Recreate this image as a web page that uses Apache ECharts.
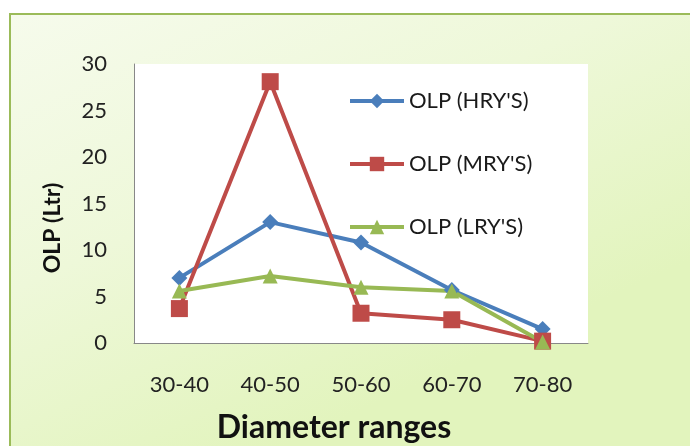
<!DOCTYPE html>
<html>
<head>
<meta charset="utf-8">
<script src="https://cdn.jsdelivr.net/npm/echarts@6/dist/echarts.min.js"></script>
<style>
html,body{margin:0;padding:0;background:#fff;}
#chart{width:690px;height:446px;}
</style>
</head>
<body>
<div id="chart"></div>
<script>
const categories = ['30-40', '40-50', '50-60', '60-70', '70-80'];
const hryValues = [7.0, 13.0, 10.8, 5.7, 1.5];
const mryValues = [3.7, 28.1, 3.2, 2.5, 0.2];
const lryValues = [5.6, 7.2, 6.0, 5.6, 0.1];
const seriesNames = ["OLP (HRY'S)", "OLP (MRY'S)", "OLP (LRY'S)"];
const yTicks = { min: 0, max: 30, interval: 5 };
const xTitle = 'Diameter ranges';
const yTitle = 'OLP (Ltr)';

const FONT = 'Lato, "Open Sans", sans-serif';
const chart = echarts.init(document.getElementById('chart'), null, { renderer: 'canvas' });

function lineSeries(name, data, color, symbol, size) {
  return {
    name: name, type: 'line', data: data,
    symbol: symbol, symbolSize: size,
    lineStyle: { color: color, width: 4 },
    itemStyle: { color: color },
    emphasis: { disabled: true },
    z: 3
  };
}

chart.setOption({
  animation: false,
  backgroundColor: 'transparent',
  graphic: [
    {
      type: 'rect', z: -10, silent: true,
      shape: { x: 10, y: 14, width: 700, height: 460 },
      style: {
        fill: { type: 'linear', x: 0, y: 0, x2: 0.3, y2: 1,
          colorStops: [{ offset: 0, color: '#f6fbec' }, { offset: 0.5, color: '#eef8d9' }, { offset: 1, color: '#e2f4bd' }] },
        stroke: '#9bbb59', lineWidth: 2
      }
    },
    {
      type: 'text', x: 53, y: 228, rotation: Math.PI / 2, silent: true,
      style: { text: yTitle, font: 'bold 23px ' + FONT, fill: '#111', align: 'center', verticalAlign: 'middle' }
    },
    {
      type: 'text', x: 334, y: 428, silent: true,
      style: { text: xTitle, font: 'bold 32px ' + FONT, fill: '#111', align: 'center', verticalAlign: 'middle' }
    }
  ],
  grid: {
    left: 134, right: 102, top: 64, bottom: 103,
    show: true, backgroundColor: '#ffffff', borderWidth: 0, containLabel: false
  },
  legend: {
    orient: 'vertical', left: 348, top: 90, padding: 0,
    itemWidth: 54, itemHeight: 18, itemGap: 41,
    lineStyle: { width: 4 },
    textStyle: { fontFamily: FONT, fontSize: 22, color: '#1a1a1a', padding: [0, 0, 0, 0] },
    data: seriesNames.map(function (n) { return { name: n, lineStyle: { width: 4 } }; })
  },
  xAxis: {
    type: 'category', data: categories, boundaryGap: true,
    axisLine: { lineStyle: { color: '#888', width: 1 } },
    axisTick: { show: false },
    axisLabel: { fontFamily: FONT, fontSize: 22, color: '#222', margin: 31 }
  },
  yAxis: {
    type: 'value', min: yTicks.min, max: yTicks.max, interval: yTicks.interval,
    axisLine: { show: true, lineStyle: { color: '#888', width: 1 } },
    axisTick: { show: false },
    splitLine: { show: false },
    axisLabel: { fontFamily: FONT, fontSize: 22, color: '#222', margin: 27 }
  },
  series: [
    lineSeries(seriesNames[0], hryValues, '#4a7ebb', 'diamond', 16),
    lineSeries(seriesNames[1], mryValues, '#be4b48', 'rect', 17),
    lineSeries(seriesNames[2], lryValues, '#98b954', 'triangle', 15)
  ]
});
</script>
</body>
</html>
